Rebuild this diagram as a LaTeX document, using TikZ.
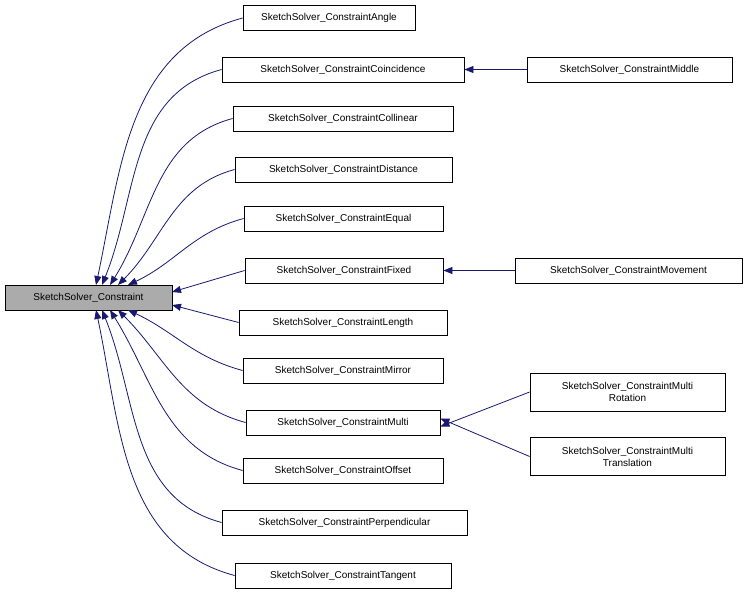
\documentclass[tikz,border=0pt]{standalone}
\usepackage{fontspec}
\setmainfont{Liberation Sans}
\usetikzlibrary{arrows.meta}
\definecolor{edge}{RGB}{25,25,112}
\begin{document}
\begin{tikzpicture}[x=1pt,y=-1pt,
  box/.style={draw=black,fill=white,line width=0.8pt,inner sep=0pt,minimum height=25pt,font=\fontsize{10}{12}\selectfont,align=center},
  arr/.style={draw=edge,line width=0.8pt,-{Triangle[length=9pt,width=7pt]}}]
\useasboundingbox (0,0) rectangle (748,595);
\node[box,fill=black!33,minimum width=167pt] (root) at (88.5,297.5) {SketchSolver\_Constraint};
\node[box,minimum width=172pt] (angle) at (329,18) {SketchSolver\_ConstraintAngle};
\node[box,minimum width=242pt] (coin) at (343,69.5) {SketchSolver\_ConstraintCoincidence};
\node[box,minimum width=205pt] (mid) at (629.5,69.5) {SketchSolver\_ConstraintMiddle};
\node[box,minimum width=220pt] (coll) at (343,118.5) {SketchSolver\_ConstraintCollinear};
\node[box,minimum width=217pt] (dist) at (343.5,169.5) {SketchSolver\_ConstraintDistance};
\node[box,minimum width=199pt] (equal) at (343.5,218.5) {SketchSolver\_ConstraintEqual};
\node[box,minimum width=198pt] (fixed) at (344,270.5) {SketchSolver\_ConstraintFixed};
\node[box,minimum width=227pt] (move) at (628.5,270.5) {SketchSolver\_ConstraintMovement};
\node[box,minimum width=208pt] (len) at (343,322.5) {SketchSolver\_ConstraintLength};
\node[box,minimum width=200pt] (mirror) at (343,370.5) {SketchSolver\_ConstraintMirror};
\node[box,minimum width=194pt] (multi) at (343,422.5) {SketchSolver\_ConstraintMulti};
\node[box,minimum width=195pt,minimum height=38pt] (rot) at (627.5,392) {SketchSolver\_ConstraintMulti\\Rotation};
\node[box,minimum width=195pt,minimum height=38pt] (trans) at (627.5,456.5) {SketchSolver\_ConstraintMulti\\Translation};
\node[box,minimum width=200pt] (offset) at (343,470.5) {SketchSolver\_ConstraintOffset};
\node[box,minimum width=245pt] (perp) at (344.5,522.5) {SketchSolver\_ConstraintPerpendicular};
\node[box,minimum width=216pt] (tang) at (343,575.5) {SketchSolver\_ConstraintTangent};
\path[arr] (angle.west) to[out=195,in=78] (96,285);
\path[arr] (coin.west) to[out=195,in=68] (102,285);
\path[arr] (coll.west) to[out=195,in=58] (110,285);
\path[arr] (dist.west) to[out=195,in=45] (118,285);
\path[arr] (equal.west) to[out=195,in=25] (128,285);
\path[arr] (fixed.west) -- (172,292);
\path[arr] (len.west) -- (172,305);
\path[arr] (mirror.west) to[out=165,in=-25] (128,310);
\path[arr] (multi.west) to[out=165,in=-45] (118,310);
\path[arr] (offset.west) to[out=165,in=-58] (110,310);
\path[arr] (perp.west) to[out=165,in=-68] (102,310);
\path[arr] (tang.west) to[out=165,in=-78] (96,310);
\path[arr] (mid.west) -- (coin.east);
\path[arr] (move.west) -- (fixed.east);
\path[arr] (rot.west) -- ([yshift=-4pt]multi.east);
\path[arr] (trans.west) -- ([yshift=4pt]multi.east);
\end{tikzpicture}
\end{document}
